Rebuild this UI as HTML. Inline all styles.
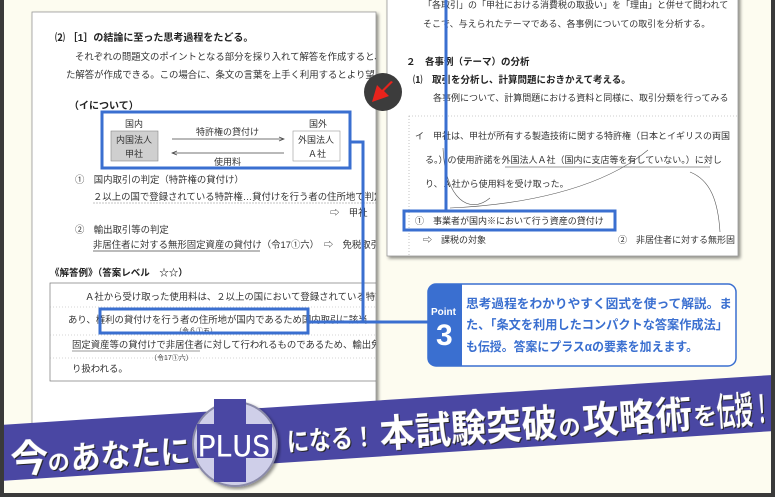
<!DOCTYPE html>
<html><head><meta charset="utf-8"><style>
html,body{margin:0;padding:0;background:#fdfcf0;}
svg{display:block;}
text{font-family:"Liberation Sans","Noto Sans CJK JP",sans-serif;}
.t{font-size:9.4px;fill:#333;}
.r{font-size:9px;fill:#333;}
.b{font-weight:bold;fill:#222;}
.p{font-size:12.5px;font-weight:bold;fill:#3a6fd0;}
.w{fill:#fff;font-weight:bold;}
.bn{fill:#fff;font-weight:bold;}
</style></head><body>
<svg width="775" height="497" viewBox="0 0 775 497" xmlns="http://www.w3.org/2000/svg">
<defs>
<clipPath id="cl"><rect x="32" y="12" width="344" height="412"/></clipPath>
<clipPath id="cr"><rect x="387" y="0" width="351" height="256"/></clipPath>
<filter id="sh" x="-5%" y="-5%" width="110%" height="110%"><feDropShadow dx="2" dy="2" stdDeviation="1.5" flood-color="#000" flood-opacity="0.45"/></filter>
</defs>
<rect width="775" height="497" fill="#fdfcf0"/>

<!-- left page -->
<rect x="32" y="12" width="344" height="412" fill="#fff" stroke="#999" stroke-width="0.8" filter="url(#sh)"/>
<g clip-path="url(#cl)">
<text x="55" y="41" class="t b" style="font-size:10px">⑵ ［1］の結論に至った思考過程をたどる。</text>
<text x="75" y="60" class="t">それぞれの問題文のポイントとなる部分を採り入れて解答を作成すると、</text>
<text x="66" y="78" class="t">た解答が作成できる。この場合に、条文の言葉を上手く利用するとより望</text>
<text x="69" y="109" class="t b" style="font-size:10px">（イについて）</text>
<text x="125" y="127" class="r">国内</text>
<rect x="111" y="131" width="47" height="30" fill="#cfcfcf" stroke="#888" stroke-width="0.6"/>
<text x="116" y="143" class="r">内国法人</text>
<text x="125" y="157" class="r">甲社</text>
<text x="196" y="135" class="r">特許権の貸付け</text>
<line x1="172" y1="139" x2="283" y2="139" stroke="#444" stroke-width="0.7"/>
<path d="M279 137 L284 139 L279 141" fill="none" stroke="#444" stroke-width="0.7"/>
<line x1="172" y1="153" x2="284" y2="153" stroke="#444" stroke-width="0.7"/>
<path d="M177 151 L172 153 L177 155" fill="none" stroke="#444" stroke-width="0.7"/>
<text x="214" y="165" class="r">使用料</text>
<text x="309" y="127" class="r">国外</text>
<rect x="293" y="131" width="47" height="30" fill="#fff" stroke="#999" stroke-width="0.6"/>
<text x="298" y="143" class="r">外国法人</text>
<text x="308" y="157" class="r">Ａ社</text>
<text x="75" y="183" class="t">①　国内取引の判定（特許権の貸付け）</text>
<text x="93" y="200" class="t">２以上の国で登録されている特許権…貸付けを行う者の住所地で判定</text>
<line x1="93" y1="203" x2="376" y2="203" stroke="#888" stroke-width="0.6" stroke-dasharray="2 1"/>
<text x="330" y="216" class="t">⇨　甲社</text>
<text x="75" y="233" class="t">②　輸出取引等の判定</text>
<text x="93" y="248" class="t">非居住者に対する無形固定資産の貸付け（令17①六）　⇨　免税取引</text>
<line x1="93" y1="251" x2="260" y2="251" stroke="#777" stroke-width="1"/>
<text x="50" y="276" class="t b" style="font-size:9.5px">《解答例》（答案レベル　☆☆）</text>
<rect x="50" y="283" width="340" height="98" fill="none" stroke="#777" stroke-width="0.7"/>
<text x="85" y="300" class="t">Ａ社から受け取った使用料は、２以上の国において登録されている特許</text>
<line x1="50" y1="307" x2="376" y2="307" stroke="#aaa" stroke-width="0.6" stroke-dasharray="1 2"/>
<text x="68" y="323" class="t">あり、権利の貸付けを行う者の住所地が国内であるため国内取引に該当</text>
<text x="175" y="333" class="r" style="font-size:7px">（令６①五）</text>
<line x1="50" y1="335" x2="376" y2="335" stroke="#aaa" stroke-width="0.6" stroke-dasharray="1 2"/>
<text x="72" y="348" class="t">固定資産等の貸付けで非居住者に対して行われるものであるため、輸出免</text>
<line x1="72" y1="351" x2="200" y2="351" stroke="#777" stroke-width="0.8"/>
<line x1="50" y1="358" x2="376" y2="358" stroke="#aaa" stroke-width="0.6" stroke-dasharray="1 2"/>
<text x="150" y="360" class="r" style="font-size:7px">（令17①六）</text>
<text x="72" y="372" class="t">り扱われる。</text>
</g>

<!-- right page -->
<rect x="387" y="-5" width="351" height="261" fill="#fff" stroke="#999" stroke-width="0.8" filter="url(#sh)"/>
<g clip-path="url(#cr)">
<text x="423" y="8" class="r">「各取引」の「甲社における消費税の取扱い」を「理由」と併せて問われて</text>
<text x="423" y="27" class="r">そこで、与えられたテーマである、各事例についての取引を分析する。</text>
<text x="406" y="65" class="r b" style="font-size:9.5px">２　各事例（テーマ）の分析</text>
<text x="413" y="83" class="r b" style="font-size:9.5px">⑴　取引を分析し、計算問題におきかえて考える。</text>
<text x="433" y="101" class="r">各事例について、計算問題における資料と同様に、取引分類を行ってみる</text>
<rect x="409" y="116" width="340" height="145" fill="none" stroke="#999" stroke-width="0.6" stroke-dasharray="1 2"/>
<text x="415" y="139" class="r">イ　甲社は、甲社が所有する製造技術に関する特許権（日本とイギリスの両国</text>
<text x="425" y="163" class="r">る。）の使用許諾を外国法人Ａ社（国内に支店等を有していない。）に対し</text>
<line x1="505" y1="167" x2="710" y2="167" stroke="#777" stroke-width="0.8"/>
<text x="425" y="187" class="r">り、Ａ社から使用料を受け取った。</text>
<path d="M443 148 C445 200 470 215 490 198" fill="none" stroke="#555" stroke-width="0.6"/>
<path d="M450 208 C520 205 600 190 648 150" fill="none" stroke="#555" stroke-width="0.6"/>
<path d="M720 232 C718 200 710 180 690 172" fill="none" stroke="#555" stroke-width="0.6"/>
<text x="415" y="224" class="r">①　事業者が国内※において行う資産の貸付け</text>
<text x="423" y="243" class="r">⇨　課税の対象</text>
<text x="618" y="243" class="r">②　非居住者に対する無形固</text>
</g>

<!-- red arrow circle -->
<circle cx="383" cy="92" r="19" fill="#3c3c3c"/>
<path d="M393 82 L384 91 L389 96 L372 102 L377 85 L382 90 L391 81 Z" fill="#e8231c"/>

<!-- blue highlights and connectors -->
<g fill="none" stroke="#3a6fd0" stroke-width="3">
<rect x="102" y="112" width="248" height="56"/>
<rect x="100" y="309" width="208" height="24"/>
<rect x="404" y="211" width="211" height="19"/>
<line x1="446" y1="0" x2="446" y2="211"/>
<polyline points="350,142 363,142 363,322"/>
<line x1="308" y1="322" x2="428" y2="322"/>
</g>

<!-- point box -->
<rect x="428" y="284" width="308" height="82" rx="8" fill="#fff" stroke="#3a6fd0" stroke-width="1.5"/>
<path d="M436 284 H462 V366 H436 A8 8 0 0 1 428 358 V292 A8 8 0 0 1 436 284 Z" fill="#3a6fd0"/>
<text x="431" y="315" class="w" style="font-size:10px">Point</text>
<text x="436" y="345" class="w" style="font-size:30px">3</text>
<text x="466" y="308" class="p" textLength="266" lengthAdjust="spacingAndGlyphs">思考過程をわかりやすく図式を使って解説。ま</text>
<text x="466" y="329" class="p" textLength="262" lengthAdjust="spacingAndGlyphs">た、「条文を利用したコンパクトな答案作成法」</text>
<text x="466" y="351" class="p" textLength="232" lengthAdjust="spacingAndGlyphs">も伝授。答案にプラスαの要素を加えます。</text>

<!-- banner -->
<g transform="rotate(-3.7 0 452)">
<rect x="-10" y="425" width="810" height="56" fill="#4a47a3"/>
<g style="filter:drop-shadow(1px 1px 0 #222)">
<text x="10" y="474" class="bn" style="font-size:38px">今</text>
<text x="47" y="474" class="bn" style="font-size:22px">の</text>
<text x="70" y="474" class="bn" style="font-size:32px" textLength="120" lengthAdjust="spacingAndGlyphs">あなたに</text>
<text x="287" y="470" class="bn" style="font-size:26px" textLength="88" lengthAdjust="spacingAndGlyphs">になる！</text>
<text x="380" y="472" class="bn" style="font-size:38px" textLength="178" lengthAdjust="spacingAndGlyphs">本試験突破</text>
<text x="559" y="472" class="bn" style="font-size:22px">の</text>
<text x="583" y="472" class="bn" style="font-size:38px" textLength="110" lengthAdjust="spacingAndGlyphs">攻略術</text>
<text x="694" y="470" class="bn" style="font-size:24px">を</text>
<text x="718" y="472" class="bn" style="font-size:38px" textLength="54" lengthAdjust="spacingAndGlyphs">伝授！</text>
</g>
</g>

<!-- PLUS circle -->
<circle cx="235" cy="444" r="42" fill="#cfcfe9" stroke="#8a8aa8" stroke-width="2" filter="url(#sh)"/>
<path d="M214 399 H246 V424 H272 V458 H246 V482 H214 V458 H197 V424 H214 Z" fill="#4a47a3"/>
<text x="234" y="457" text-anchor="middle" textLength="72" lengthAdjust="spacingAndGlyphs" style="font-size:32px;font-weight:bold;fill:#fff;stroke:#4a47a3;stroke-width:1">PLUS</text>

<!-- frame -->
<rect x="0" y="0" width="4" height="497" fill="#3a3a3a"/>
<rect x="771" y="0" width="4" height="497" fill="#3a3a3a"/>
<rect x="0" y="493" width="775" height="4" fill="#3a3a3a"/>
</svg>
</body></html>
